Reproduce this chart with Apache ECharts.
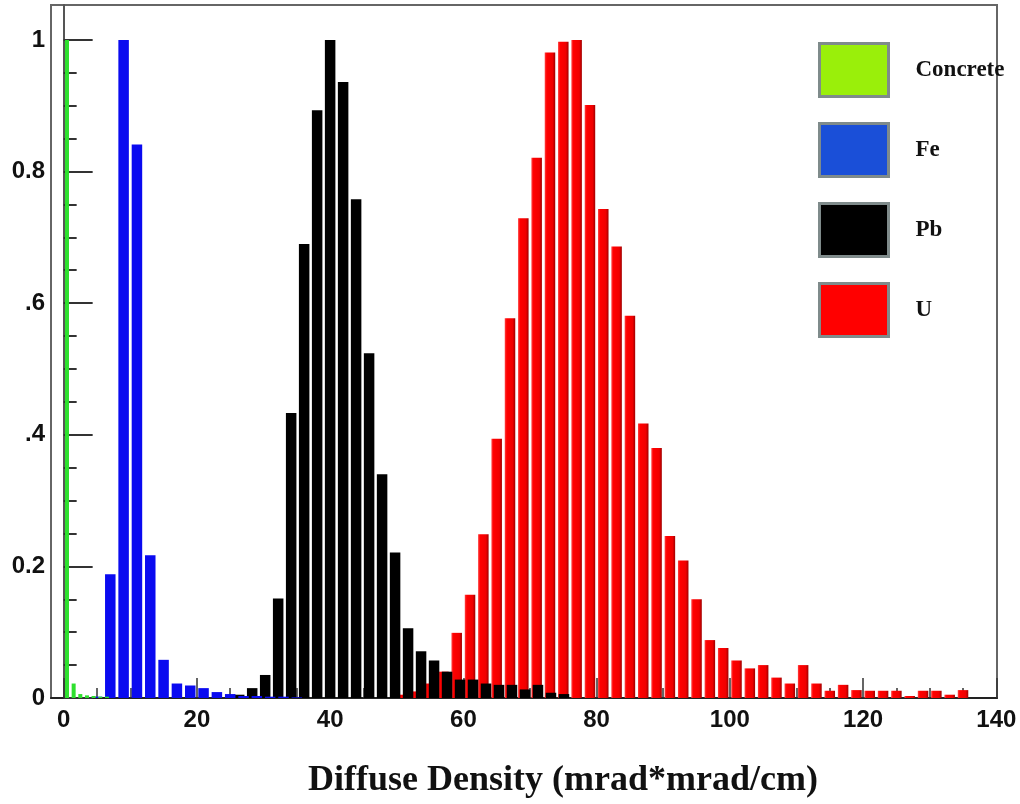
<!DOCTYPE html>
<html>
<head>
<meta charset="utf-8">
<title>Diffuse Density</title>
<script src="https://cdn.jsdelivr.net/npm/echarts@6/dist/echarts.min.js"></script>
<style>
  html, body { margin: 0; padding: 0; background: #fff; }
  #main { width: 1020px; height: 804px; }
</style>
</head>
<body>
<div id="main"></div>
<script>
// 数据
var concreteX = [0.5, 1.5, 2.5, 3.5, 4.5, 5.5, 6.5];
var concreteY = [1.0, 0.022, 0.006, 0.004, 0.003, 0.002, 0.002];

var feX = [5, 7, 9, 11, 13, 15, 17, 19, 21, 23, 25, 27, 29, 31, 33, 35];
var feY = [0.002, 0.188, 1.0, 0.841, 0.217, 0.058, 0.022, 0.019, 0.015, 0.009, 0.006, 0.003, 0.003, 0.002, 0.002, 0.001];

var pbX = [26.35, 28.3, 30.25, 32.2, 34.15, 36.1, 38.05, 40, 41.95, 43.9, 45.85, 47.8, 49.75,
  51.7, 53.65, 55.6, 57.55, 59.5, 61.45, 63.4, 65.35, 67.3, 69.25, 71.2, 73.15, 75.1];
var pbY = [0.005, 0.015, 0.035, 0.151, 0.433, 0.690, 0.893, 1.0, 0.936, 0.758, 0.524, 0.340, 0.221,
  0.106, 0.071, 0.057, 0.040, 0.028, 0.028, 0.022, 0.020, 0.020, 0.013, 0.020, 0.008, 0.006];

var uX = [51, 53, 55, 57, 59, 61, 63, 65, 67, 69, 71, 73, 75, 77, 79, 81, 83, 85, 87, 89, 91, 93,
  95, 97, 99, 101, 103, 105, 107, 109, 111, 113, 115, 117, 119, 121, 123, 125, 127, 129, 131, 133, 135];
var uY = [0.005, 0.010, 0.022, 0.040, 0.099, 0.157, 0.249, 0.394, 0.577, 0.729, 0.821, 0.981, 0.997, 1.0,
  0.901, 0.743, 0.686, 0.581, 0.417, 0.380, 0.246, 0.209, 0.150, 0.088, 0.076, 0.057, 0.045, 0.050,
  0.031, 0.022, 0.050, 0.022, 0.011, 0.020, 0.012, 0.011, 0.011, 0.011, 0.003, 0.011, 0.011, 0.005, 0.012];

// 刻度
var xTickValues = [0, 20, 40, 60, 80, 100, 120, 140];
var yTickValues = [0, 0.2, 0.4, 0.6, 0.8, 1];
var yTickLabels = ['0', '0.2', '.4', '.6', '0.8', '1'];

var xMinor = [];
for (var i = 0; i <= 140; i += 5) xMinor.push(i);
var yMinor = [];
for (var j = 0; j <= 20; j++) yMinor.push(j * 0.05);

function pairs(xs, ys) {
  return xs.map(function (x, k) { return [x, ys[k]]; });
}

var tickFont = {
  fontFamily: '"Liberation Sans Narrow", "Liberation Sans", Arial, sans-serif',
  fontWeight: 'bold',
  fontSize: 24,
  color: '#111'
};

var myChart = echarts.init(document.getElementById('main'));

var option = {
  backgroundColor: '#fff',
  animation: false,
  title: {
    text: 'Diffuse Density (mrad*mrad/cm)',
    left: 303,
    top: 758,
    textStyle: {
      fontFamily: '"Liberation Serif", "DejaVu Serif", serif',
      fontWeight: 'bold',
      fontSize: 36,
      color: '#111'
    }
  },
  legend: {
    orient: 'vertical',
    left: 818,
    top: 42,
    padding: 0,
    itemWidth: 69,
    itemHeight: 53,
    itemGap: 24,
    icon: 'rect',
    itemStyle: {
      borderColor: '#7f8b8b',
      borderWidth: 3
    },
    textStyle: {
      fontFamily: '"Liberation Serif", "DejaVu Serif", serif',
      fontWeight: 'bold',
      fontSize: 23,
      color: '#111',
      padding: [0, 0, 0, 22]
    },
    data: [
      { name: 'Concrete', itemStyle: { color: '#9aef0a' } },
      { name: 'Fe', itemStyle: { color: '#1a4fd8' } },
      { name: 'Pb', itemStyle: { color: '#000000' } },
      { name: 'U', itemStyle: { color: '#ff0000' } }
    ]
  },
  grid: {
    left: 51,
    right: 23,
    top: 5,
    bottom: 106,
    show: true,
    borderColor: '#666',
    borderWidth: 2,
    containLabel: false
  },
  xAxis: [{
    type: 'value',
    min: -1.9,
    max: 140.1,
    splitLine: { show: false },
    axisLine: { show: true, onZero: false, lineStyle: { color: '#222', width: 2 } },
    axisTick: {
      show: true,
      inside: true,
      length: 10,
      customValues: xMinor,
      lineStyle: { color: '#333', width: 1.5 }
    },
    axisLabel: {
      margin: 10,
      customValues: xTickValues,
      fontFamily: tickFont.fontFamily,
      fontWeight: tickFont.fontWeight,
      fontSize: tickFont.fontSize,
      color: tickFont.color
    }
  }, {
    // 主刻度
    type: 'value',
    min: -1.9,
    max: 140.1,
    position: 'bottom',
    splitLine: { show: false },
    axisLine: { show: false },
    axisTick: {
      show: true,
      inside: true,
      length: 20,
      customValues: xTickValues,
      lineStyle: { color: '#333', width: 1.5 }
    },
    axisLabel: { show: false }
  }],
  yAxis: [{
    type: 'value',
    min: 0,
    max: 1.053,
    splitLine: { show: false },
    axisLine: { show: true, lineStyle: { color: '#555', width: 2 } },
    axisTick: {
      show: true,
      inside: true,
      length: 13,
      customValues: yMinor,
      lineStyle: { color: '#333', width: 2 }
    },
    axisLabel: {
      margin: 6,
      customValues: yTickValues,
      formatter: function (v) {
        var k = yTickValues.findIndex(function (t) { return Math.abs(t - v) < 1e-6; });
        return k >= 0 ? yTickLabels[k] : '';
      },
      fontFamily: tickFont.fontFamily,
      fontWeight: tickFont.fontWeight,
      fontSize: tickFont.fontSize,
      color: tickFont.color
    }
  }, {
    type: 'value',
    min: 0,
    max: 1.053,
    position: 'left',
    splitLine: { show: false },
    axisLine: { show: false },
    axisTick: {
      show: true,
      inside: true,
      length: 29,
      customValues: yTickValues,
      lineStyle: { color: '#333', width: 2 }
    },
    axisLabel: { show: false }
  }],
  series: [{
    name: 'U',
    type: 'bar',
    barWidth: 10.5,
    barGap: '-100%',
    itemStyle: {
      color: new echarts.graphic.LinearGradient(0, 0, 1, 0, [
        { offset: 0, color: '#ff4040' },
        { offset: 0.2, color: '#ff0000' },
        { offset: 0.75, color: '#f00000' },
        { offset: 1, color: '#a00000' }
      ])
    },
    data: pairs(uX, uY)
  }, {
    name: 'Pb',
    type: 'bar',
    barWidth: 10.5,
    barGap: '-100%',
    itemStyle: { color: '#000' },
    data: pairs(pbX, pbY)
  }, {
    name: 'Fe',
    type: 'bar',
    barWidth: 10.5,
    barGap: '-100%',
    itemStyle: { color: '#0a0af0' },
    data: pairs(feX, feY)
  }, {
    name: 'Concrete',
    type: 'bar',
    xAxisIndex: 1,
    barWidth: 4,
    itemStyle: { color: '#2ee02e' },
    data: pairs(concreteX, concreteY)
  }]
};

myChart.setOption(option);
</script>
</body>
</html>
